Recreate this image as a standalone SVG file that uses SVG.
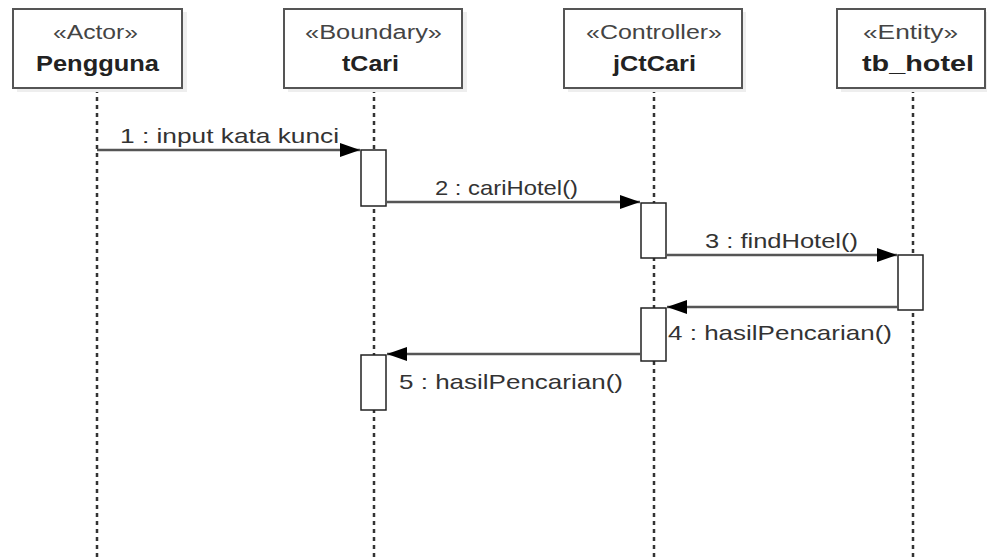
<svg xmlns="http://www.w3.org/2000/svg" width="987" height="559" viewBox="0 0 987 559">
<style>
.box{fill:#fff;stroke:#555;stroke-width:2}
.shadow{fill:#eeeeee}
.st{font-family:"Liberation Sans",Arial,sans-serif;font-size:20px;fill:#444}
.nm{font-family:"Liberation Sans",Arial,sans-serif;font-size:22px;font-weight:bold;fill:#222}
.life{stroke:#333;stroke-width:2.5;stroke-dasharray:4 4;fill:none}
.act{fill:#fff;stroke:#222;stroke-width:1.5}
.msg{stroke:#555;stroke-width:2.5;fill:none}
.lbl{font-family:"Liberation Sans",Arial,sans-serif;font-size:21px;fill:#333}
</style>
<defs>
<marker id="ah" viewBox="0 0 20 14" refX="20" refY="7" markerWidth="20" markerHeight="14" markerUnits="userSpaceOnUse" orient="auto">
<path d="M0,0 L20,7 L0,14 Z" fill="#000"/>
</marker>
</defs>
<rect width="987" height="559" fill="#fff"/>
<g id="lifelines">
<line class="life" x1="97" y1="89" x2="97" y2="559"/>
<line class="life" x1="374" y1="89" x2="374" y2="559"/>
<line class="life" x1="654" y1="89" x2="654" y2="559"/>
<line class="life" x1="913" y1="89" x2="913" y2="559"/>
</g>
<g id="pengguna">
<rect class="shadow" x="17" y="12" width="170" height="80"/>
<rect class="box" x="13" y="9" width="169" height="79"/>
<text class="st" x="53" y="39" textLength="85" lengthAdjust="spacingAndGlyphs">«Actor»</text>
<text class="nm" x="36" y="71" textLength="123" lengthAdjust="spacingAndGlyphs">Pengguna</text>
</g>
<g id="tCari">
<rect class="shadow" x="288" y="12" width="179" height="80"/>
<rect class="box" x="284" y="9" width="178" height="79"/>
<text class="st" x="305" y="39" textLength="137" lengthAdjust="spacingAndGlyphs">«Boundary»</text>
<text class="nm" x="342" y="71" textLength="57" lengthAdjust="spacingAndGlyphs">tCari</text>
</g>
<g id="jCtCari">
<rect class="shadow" x="568" y="12" width="178" height="80"/>
<rect class="box" x="564" y="9" width="178" height="79"/>
<text class="st" x="586" y="39" textLength="136" lengthAdjust="spacingAndGlyphs">«Controller»</text>
<text class="nm" x="613" y="71" textLength="83" lengthAdjust="spacingAndGlyphs">jCtCari</text>
</g>
<g id="tb_hotel">
<rect class="shadow" x="841" y="12" width="146" height="80"/>
<rect class="box" x="837" y="9" width="148" height="79"/>
<text class="st" x="863" y="39" textLength="95" lengthAdjust="spacingAndGlyphs">«Entity»</text>
<text class="nm" x="862" y="71" textLength="112" lengthAdjust="spacingAndGlyphs">tb_hotel</text>
</g>
<g id="activations">
<rect class="act" x="361" y="150" width="25" height="56"/>
<rect class="act" x="641" y="203" width="25" height="55"/>
<rect class="act" x="898" y="255" width="25" height="55"/>
<rect class="act" x="641" y="308" width="25" height="53"/>
<rect class="act" x="361" y="355" width="25" height="55"/>
</g>
<g id="connectors">
<line class="msg" x1="97" y1="150" x2="360" y2="150" marker-end="url(#ah)"/>
<line class="msg" x1="386" y1="202" x2="640" y2="202" marker-end="url(#ah)"/>
<line class="msg" x1="666" y1="255" x2="897" y2="255" marker-end="url(#ah)"/>
<line class="msg" x1="898" y1="307" x2="667" y2="307" marker-end="url(#ah)"/>
<line class="msg" x1="641" y1="354" x2="387" y2="354" marker-end="url(#ah)"/>
</g>
<g id="labels">
<text class="lbl" x="120" y="143" textLength="219" lengthAdjust="spacingAndGlyphs">1 : input kata kunci</text>
<text class="lbl" x="435" y="195" textLength="143" lengthAdjust="spacingAndGlyphs">2 : cariHotel()</text>
<text class="lbl" x="705" y="248" textLength="153" lengthAdjust="spacingAndGlyphs">3 : findHotel()</text>
<text class="lbl" x="668" y="340" textLength="224" lengthAdjust="spacingAndGlyphs">4 : hasilPencarian()</text>
<text class="lbl" x="399" y="389" textLength="224" lengthAdjust="spacingAndGlyphs">5 : hasilPencarian()</text>
</g>
</svg>
